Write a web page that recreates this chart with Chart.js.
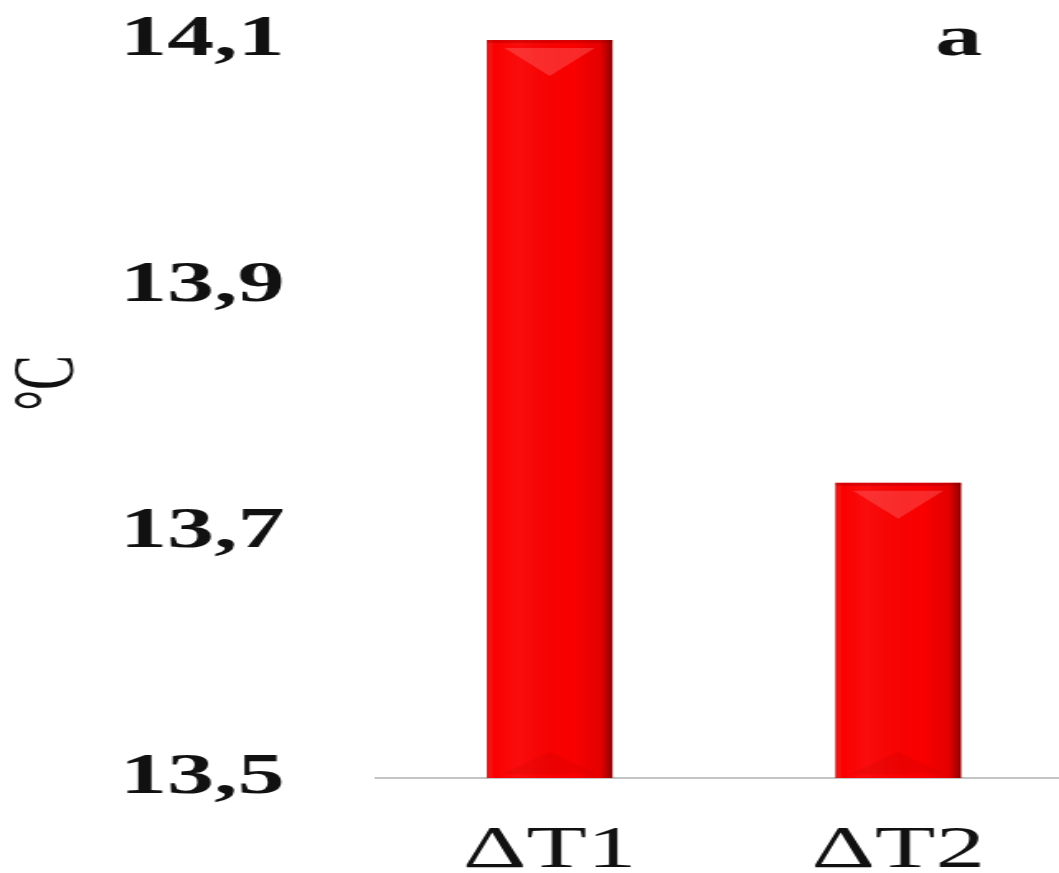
<!DOCTYPE html>
<html>
<head>
<meta charset="utf-8">
<script src="https://cdn.jsdelivr.net/npm/chart.js@4"></script>
<style>
    html, body { margin: 0; padding: 0; background: #fff; overflow: hidden; }
    #wrap { width: 1090px; height: 873px; }
    /* the whole figure is drawn narrow and widened, which gives the wide lettering */
    #deltaChart { transform: scaleX(1.65); transform-origin: 0 0; }
</style>
</head>
<body>
<div id="wrap"><canvas id="deltaChart" width="654" height="873"></canvas></div>
<script>
const categories = ['ΔT1', 'ΔT2'];
const deltaValues = [14.1, 13.74];
const yTickValues = [13.5, 13.7, 13.9, 14.1];
const axisTitle = '    °C';
const panelLetter = 'a';
const serif = 'Liberation Serif';

// Gives the flat bars a bevelled, glossy look
const barShading = {
    id: 'barShading',
    afterDatasetsDraw(chart) {
        const ctx = chart.ctx;
        const area = chart.chartArea;
        chart.getDatasetMeta(0).data.forEach(bar => {
            const left = bar.x - bar.width / 2;
            const right = bar.x + bar.width / 2;
            const top = bar.y;
            const bottom = Math.min(bar.base, area.bottom);
            const w = right - left;
            ctx.save();

            const side = ctx.createLinearGradient(left, 0, right, 0);
            side.addColorStop(0, 'rgba(130,0,0,0.35)');
            side.addColorStop(0.05, 'rgba(255,255,255,0)');
            side.addColorStop(0.25, 'rgba(255,255,255,0.05)');
            side.addColorStop(0.7, 'rgba(0,0,0,0)');
            side.addColorStop(0.9, 'rgba(90,0,0,0.12)');
            side.addColorStop(1, 'rgba(50,0,0,0.55)');
            ctx.fillStyle = side;
            ctx.fillRect(left, top, w, bottom - top);

            // top bevel
            ctx.fillStyle = 'rgba(120,0,0,0.25)';
            ctx.fillRect(left, top, w, 3);
            ctx.beginPath();
            ctx.moveTo(left + w * 0.14, top + 8);
            ctx.lineTo(right - w * 0.14, top + 8);
            ctx.lineTo(bar.x, top + 36);
            ctx.closePath();
            ctx.fillStyle = 'rgba(255,120,120,0.35)';
            ctx.fill();

            // faint bottom bevel
            ctx.beginPath();
            ctx.moveTo(left + w * 0.12, bottom - 4);
            ctx.lineTo(right - w * 0.12, bottom - 4);
            ctx.lineTo(bar.x, bottom - 26);
            ctx.closePath();
            ctx.fillStyle = 'rgba(150,0,0,0.10)';
            ctx.fill();
            ctx.restore();
        });
    }
};

const panelLabel = {
    id: 'panelLabel',
    afterDraw(chart) {
        const ctx = chart.ctx;
        ctx.save();
        ctx.font = 'bold 57px "' + serif + '"';
        ctx.fillStyle = '#111';
        ctx.textAlign = 'center';
        ctx.textBaseline = 'alphabetic';
        ctx.fillText(panelLetter, 581, 55);
        ctx.restore();
    }
};

const ctx = document.getElementById('deltaChart').getContext('2d');
new Chart(ctx, {
    type: 'bar',
    data: {
        labels: categories,
        datasets: [{
            data: deltaValues,
            backgroundColor: '#fa0000',
            borderWidth: 0,
            barPercentage: 0.36,
            categoryPercentage: 1
        }]
    },
    options: {
        responsive: false,
        devicePixelRatio: 1,
        animation: false,
        layout: { padding: { top: 40, right: 4, left: 0, bottom: 0 } },
        plugins: {
            legend: { display: false },
            tooltip: { enabled: false }
        },
        scales: {
            x: {
                grid: { display: false, drawTicks: false },
                border: { display: true, color: '#c4c4c4', width: 2 },
                ticks: {
                    color: '#111',
                    font: { family: serif, size: 60 },
                    padding: 37
                },
                afterFit(scale) {
                    scale.height = 95;
                    scale.paddingLeft = 0;
                    scale.paddingRight = 0;
                }
            },
            y: {
                min: 13.5,
                max: 14.1,
                grid: { display: false, drawTicks: false },
                border: { display: false },
                afterBuildTicks(scale) {
                    scale.ticks = yTickValues.map(v => ({ value: v }));
                },
                ticks: {
                    color: '#111',
                    font: { family: serif, size: 57, weight: 'bold' },
                    padding: 55,
                    callback: v => v.toFixed(1).replace('.', ',')
                },
                title: {
                    display: true,
                    text: axisTitle,
                    color: '#111',
                    font: { family: serif, size: 52, lineHeight: 1 },
                    padding: { top: 4, bottom: 0 }
                },
                afterFit(scale) {
                    scale.width = 227.5;
                    // keep the tick padding from pushing the plot area inwards
                    scale.paddingTop = 0;
                    scale.paddingBottom = 0;
                }
            }
        }
    },
    plugins: [barShading, panelLabel]
});
</script>
</body>
</html>
